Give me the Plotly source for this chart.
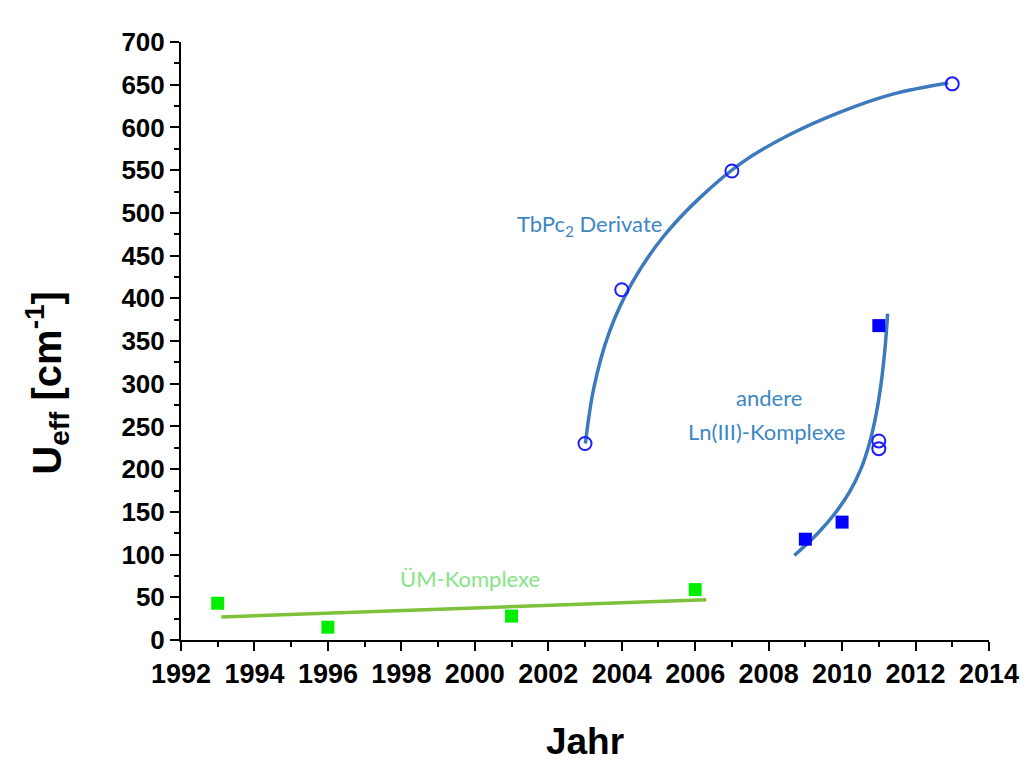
import plotly.graph_objects as go

# Transition-metal complexes (ÜM-Komplexe)
tm_years = [1993, 1996, 2001, 2006]
tm_ueff = [43, 15, 28, 59]
tm_trend_x = [1993.1, 2006.3]
tm_trend_y = [27, 47]

# TbPc2 derivatives
tb_years = [2003, 2004, 2007, 2013]
tb_ueff = [230, 410, 549, 651]
tb_curve_x = [2003.01, 2003.24, 2003.65, 2004.28, 2005.13, 2006.16, 2007.31,
              2008.59, 2009.95, 2011.38, 2012.89]
tb_curve_y = [230, 295, 359, 418, 472, 519, 560, 592, 618, 639, 652]

# Other Ln(III) complexes
ln_sq_years = [2009, 2010, 2011]
ln_sq_ueff = [118, 138, 368]
ln_circ_years = [2011, 2011]
ln_circ_ueff = [233, 224]
ln_curve_x = [2008.70, 2009.34, 2009.82, 2010.20, 2010.51, 2010.75, 2010.93,
              2011.07, 2011.17, 2011.24]
ln_curve_y = [99, 125, 149, 173, 200, 231, 265, 303, 342, 382]

x_ticks = list(range(1992, 2015, 2))
y_ticks = list(range(0, 701, 50))

curve_color = "#3d79bd"
label_blue = "#3d87c4"

fig = go.Figure()

fig.add_trace(go.Scatter(x=tm_trend_x, y=tm_trend_y, mode="lines",
                         line=dict(color="#7dc23a", width=3.5), hoverinfo="skip"))
fig.add_trace(go.Scatter(x=tb_curve_x, y=tb_curve_y, mode="lines",
                         line=dict(color=curve_color, width=3.5, shape="spline", smoothing=1.0),
                         hoverinfo="skip"))
fig.add_trace(go.Scatter(x=ln_curve_x, y=ln_curve_y, mode="lines",
                         line=dict(color=curve_color, width=3.5, shape="spline", smoothing=1.0),
                         hoverinfo="skip"))

fig.add_trace(go.Scatter(x=tm_years, y=tm_ueff, mode="markers",
                         marker=dict(symbol="square", size=13, color="#00ee00")))
fig.add_trace(go.Scatter(x=ln_sq_years, y=ln_sq_ueff, mode="markers",
                         marker=dict(symbol="square", size=13, color="#0000ff")))
fig.add_trace(go.Scatter(x=tb_years + ln_circ_years, y=tb_ueff + ln_circ_ueff, mode="markers",
                         marker=dict(symbol="circle-open", size=13, color="#1c1cff",
                                     line=dict(width=2, color="#1c1cff"))))

label_font = dict(family="Lato, Open Sans, sans-serif", size=22)
fig.add_annotation(x=2003.12, y=486, text="TbPc<sub>2</sub> Derivate", showarrow=False,
                   font=dict(color=label_blue, **label_font))
fig.add_annotation(x=2008.0, y=284, text="andere", showarrow=False,
                   font=dict(color=label_blue, **label_font))
fig.add_annotation(x=2007.95, y=244, text="Ln(III)-Komplexe", showarrow=False,
                   font=dict(color=label_blue, **label_font))
fig.add_annotation(x=1999.88, y=72, text="ÜM-Komplexe", showarrow=False,
                   font=dict(color="#86e486", **label_font))

# y-axis title placed as a rotated annotation
fig.add_annotation(xref="paper", yref="paper", x=-0.166, y=0.43, xanchor="center",
                   yanchor="middle", textangle=-90, showarrow=False,
                   text="<b>U<sub>eff</sub> [cm<sup>-1</sup>]</b>",
                   font=dict(family="Liberation Sans, Arial", size=40, color="black"))

sans = "Liberation Sans, Arial, sans-serif"
fig.update_xaxes(range=[1992, 2014], tickvals=x_ticks, ticks="outside", ticklen=9, tickwidth=2,
                 tickcolor="black", showline=True, linecolor="black", linewidth=2,
                 showgrid=False, zeroline=False,
                 tickfont=dict(family=sans, size=27, color="black", weight="bold"),
                 minor=dict(dtick=1, ticks="outside", ticklen=5, tickwidth=2, tickcolor="black"),
                 title=dict(text="<b>Jahr</b>", font=dict(family=sans, size=37, color="black"),
                            standoff=40))
fig.update_yaxes(range=[0, 700], tickvals=y_ticks, ticks="outside", ticklen=9, tickwidth=2,
                 tickcolor="black", showline=True, linecolor="black", linewidth=2,
                 showgrid=False, zeroline=False,
                 tickfont=dict(family=sans, size=26, color="black", weight="bold"),
                 minor=dict(dtick=25, ticks="outside", ticklen=5, tickwidth=2, tickcolor="black"))

fig.update_layout(width=1031, height=767, showlegend=False,
                  margin=dict(l=181, r=37, t=42, b=122),
                  plot_bgcolor="white", paper_bgcolor="white")

fig.write_html("out.html")
